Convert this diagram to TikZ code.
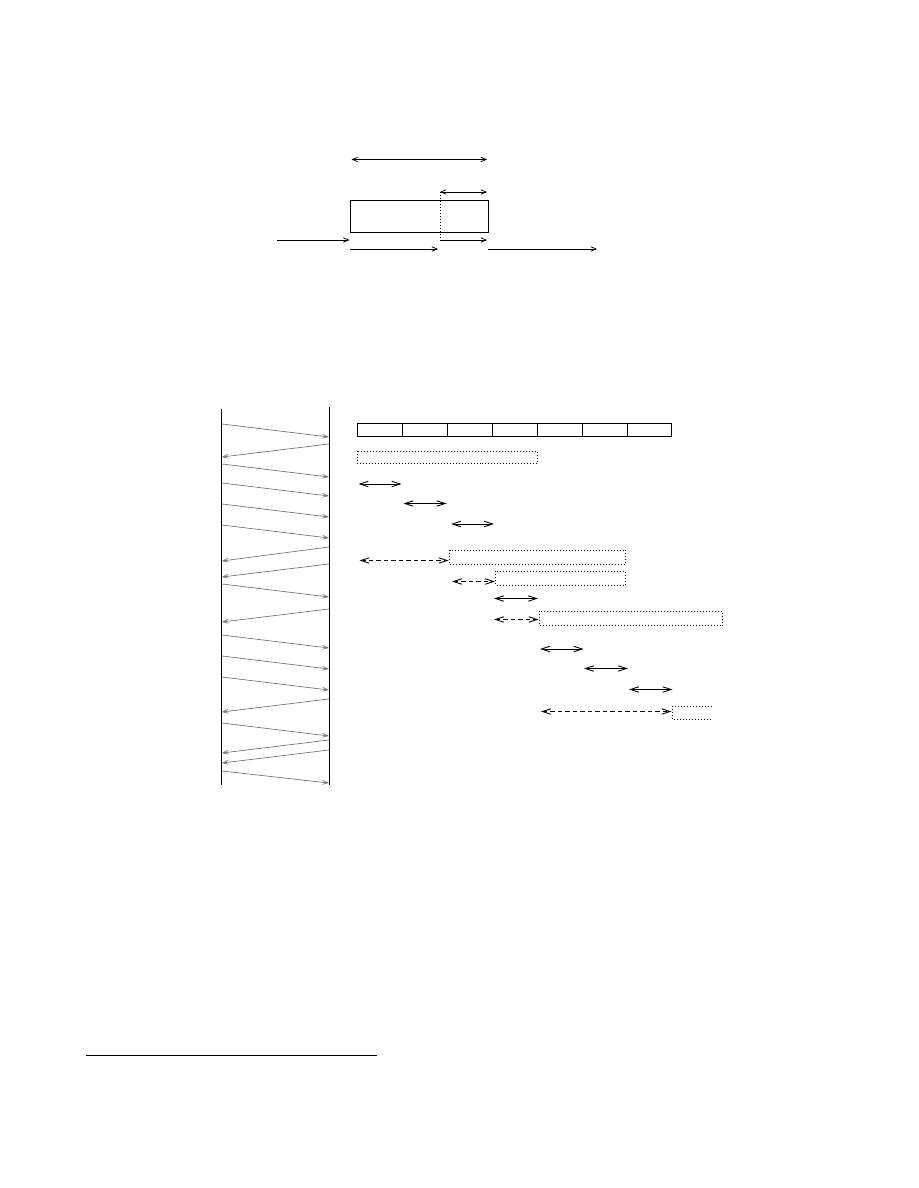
\documentclass[tikz,border=0pt]{standalone}
\usetikzlibrary{arrows.meta}
\begin{document}
\begin{tikzpicture}[x=0.6667pt,y=-0.6667pt,
  smalltip/.tip={Straight Barb[length=3.5pt,width=3pt]},
  bigtip/.tip={Straight Barb[length=5.5pt,width=3.6pt]},
  greytip/.tip={Straight Barb[length=3.5pt,width=2.6pt]},
  topdbl/.style={line width=0.5pt,smalltip-smalltip},
  topone/.style={line width=0.5pt,-smalltip},
  boxline/.style={line width=0.6pt},
  dotbox/.style={line width=0.6pt,dash pattern=on 0.6pt off 1.4pt},
  solidspan/.style={line width=0.6pt,bigtip-bigtip},
  dashspan/.style={line width=0.6pt,dash pattern=on 3pt off 2pt,bigtip-bigtip},
  lifeline/.style={line width=0.8pt},
  msg/.style={line width=0.45pt,black!55,-greytip}
]
\useasboundingbox (0,0) rectangle (918,1188);

% ---------- top diagram ----------
\coordinate (bl) at (350.5,200.5);
\coordinate (br) at (488,232.5);
\coordinate (split) at (440,192);
\draw[boxline] (bl) rectangle (br);
\draw[topdbl] (351.5,159.5) -- (487,159.5);
\draw[topdbl] (440,192) -- (487,192);
\draw[line width=0.6pt,dash pattern=on 0.6pt off 1.4pt] (split) -- (440,240);
\draw[topone] (440,240) -- (487,240);
\draw[topone] (277,240) -- (349.5,240);
\draw[topone] (350,249) -- (438,249);
\draw[topone] (488,249) -- (597,249);

% ---------- sequence diagram ----------
\coordinate (Ltop) at (221.5,409);
\coordinate (Lbot) at (221.5,785);
\coordinate (Rtop) at (329.5,407);
\coordinate (Rbot) at (329.5,785);
\draw[lifeline] (Ltop) -- (Lbot);
\draw[lifeline] (Rtop) -- (Rbot);

\foreach \ys/\ye in {424/437,464/477,483/496,504/517,525/538,584/597,635/648,656/669,677/690,723/736,771/783}
  \draw[msg] (222,\ys) -- (328.8,\ye);
\foreach \ys/\ye in {444/457,547/561,564/577,609/622,699/712,740/753,750/763}
  \draw[msg] (328.8,\ys) -- (222,\ye);

% row of cells
\draw[boxline] (357,423) rectangle (671,436);
\foreach \x in {402.9,447.7,492.6,537.4,582.3,627.1}
  \draw[boxline] (\x,423) -- (\x,436);

% window boxes and spans
\draw[dotbox] (357,451) rectangle (537.5,463.5);
\draw[solidspan] (358.5,484) -- (401.5,484);
\draw[solidspan] (403.5,503.5) -- (446.5,503.5);
\draw[solidspan] (451,524) -- (494,524);

\draw[dashspan] (359.5,560.5) -- (448.5,560.5);
\draw[dotbox] (449.5,550) rectangle (625.5,564.5);
\draw[dashspan] (452,581.5) -- (495,581.5);
\draw[dotbox] (495.5,571) rectangle (625,585);
\draw[solidspan] (494,598.5) -- (538,598.5);
\draw[dashspan] (494,619.5) -- (538.5,619.5);
\draw[dotbox] (539,611) rectangle (722.5,625.5);

\draw[solidspan] (540,649) -- (583.5,649);
\draw[solidspan] (584,668.5) -- (628,668.5);
\draw[solidspan] (629,689.5) -- (672.5,689.5);
\draw[dashspan] (541,711.5) -- (671.5,711.5);
\draw[dotbox] (711.5,706) -- (672.5,706) -- (672.5,719.5) -- (711.5,719.5);

% ---------- footnote rule ----------
\draw[line width=0.5pt] (86,1055) -- (377,1055);
\end{tikzpicture}
\end{document}
